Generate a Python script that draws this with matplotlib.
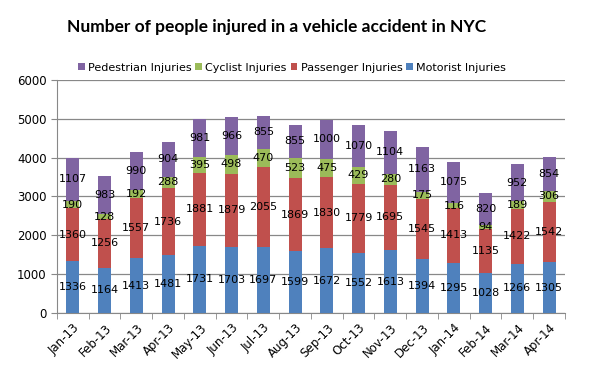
import numpy as np
import matplotlib.pyplot as plt

months = ['Jan-13', 'Feb-13', 'Mar-13', 'Apr-13', 'May-13', 'Jun-13', 'Jul-13', 'Aug-13',
          'Sep-13', 'Oct-13', 'Nov-13', 'Dec-13', 'Jan-14', 'Feb-14', 'Mar-14', 'Apr-14']
motorist = [1336, 1164, 1413, 1481, 1731, 1703, 1697, 1599, 1672, 1552, 1613, 1394, 1295, 1028, 1266, 1305]
passenger = [1360, 1256, 1557, 1736, 1881, 1879, 2055, 1869, 1830, 1779, 1695, 1545, 1413, 1135, 1422, 1542]
cyclist = [190, 128, 192, 288, 395, 498, 470, 523, 475, 429, 280, 175, 116, 94, 189, 306]
pedestrian = [1107, 983, 990, 904, 981, 966, 855, 855, 1000, 1070, 1104, 1163, 1075, 820, 952, 854]

series = [('Motorist Injuries', motorist, '#4F81BD'),
          ('Passenger Injuries', passenger, '#C0504D'),
          ('Cyclist Injuries', cyclist, '#9BBB59'),
          ('Pedestrian Injuries', pedestrian, '#8064A2')]

plt.rc('font', family='DejaVu Sans', size=8)

fig = plt.figure(figsize=(5.9, 3.92), dpi=100)
ax = fig.add_axes([0.0966, 0.2015, 0.861, 0.5945])

x = np.arange(len(months))
bottom = np.zeros(len(months))
handles = []
for name, vals, col in series:
    vals = np.asarray(vals, dtype=float)
    b = ax.bar(x, vals, 0.41, bottom=bottom, color=col, label=name, zorder=3)
    handles.append(b)
    for xi, yb, v in zip(x, bottom, vals):
        ax.text(xi, yb + v / 2, str(int(v)), ha='center', va='center',
                fontsize=8, color='black', zorder=4)
    bottom += vals

ax.set_xlim(-0.5, len(months) - 0.5)
ax.set_ylim(0, 6000)
ax.set_yticks(np.arange(0, 6001, 1000))
ax.yaxis.grid(True, color='#888888', linewidth=0.9, zorder=0)
ax.set_axisbelow(True)

ax.set_xticks(x)
ax.set_xticklabels(months, rotation=45, ha='right', rotation_mode='anchor', fontsize=8.5)
ax.tick_params(axis='x', length=0, pad=6)
ax.set_xticks(np.arange(-0.5, len(months), 1), minor=True)
ax.tick_params(axis='x', which='minor', length=4, color='#888888')
ax.tick_params(axis='y', length=4, color='#888888', labelsize=8.5)

for s in ['top', 'right']:
    ax.spines[s].set_visible(False)
for s in ['left', 'bottom']:
    ax.spines[s].set_color('#888888')

leg = fig.legend(handles[::-1], [h.get_label() for h in handles[::-1]],
                 loc='center', bbox_to_anchor=(0.495, 0.827), ncol=4, frameon=False,
                 fontsize=8, handlelength=0.6, handleheight=0.6, handletextpad=0.3,
                 columnspacing=0.35)

fig.text(0.468, 0.93, 'Number of people injured in a vehicle accident in NYC',
         ha='center', va='center', fontsize=12.5, fontweight='bold', family='Lato')

fig.savefig('out.png', dpi=100)
